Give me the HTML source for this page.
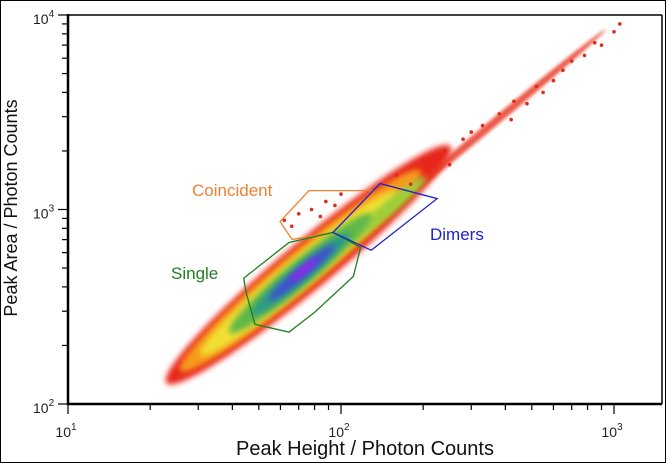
<!DOCTYPE html>
<html><head><meta charset="utf-8">
<style>
html,body{margin:0;padding:0;background:#fff;}
svg{display:block;font-family:"Liberation Sans",sans-serif;}
</style></head>
<body>
<svg id="chart" width="666" height="463" viewBox="0 0 666 463" xmlns="http://www.w3.org/2000/svg">
<defs>
<filter id="blur" x="-50%" y="-50%" width="200%" height="200%"><feGaussianBlur stdDeviation="3"/></filter>
<filter id="blur2" x="-50%" y="-50%" width="200%" height="200%"><feGaussianBlur stdDeviation="1.5"/></filter>
</defs>
<rect x="0.5" y="0.5" width="665" height="462" fill="none" stroke="#000" stroke-width="1"/>
<g id="density"></g>
<g id="gates"></g>
<g id="axes"></g>
<text x="192" y="196" font-size="17" fill="#f08030">Coincident</text>
<text x="430" y="240" font-size="17" fill="#2020d0">Dimers</text>
<text x="171" y="279" font-size="17" fill="#208020">Single</text>
<text x="365" y="455" font-size="20" text-anchor="middle" fill="#111">Peak Height / Photon Counts</text>
<text x="0" y="0" font-size="18" text-anchor="middle" fill="#111" transform="translate(17,208) rotate(-90)">Peak Area / Photon Counts</text>
</svg>
<script>
// axis ranges (log10 decades)
const xDecades = [1, 2, 3];
const yDecades = [2, 3, 4];
// density blobs: centre H, centre A, half-length (decades of H), half-width (px), colour
const blobH = [76, 330, 71, 70, 145, 71, 71, 72, 73];
const blobA = [520, 2500, 485, 470, 980, 470, 465, 475, 490];
const blobLen = [0.52, 0.45, 0.44, 0.36, 0.15, 0.26, 0.18, 0.12, 0.05];
const blobWid = [24, 4, 19, 15, 7, 13, 9, 6, 3];
const blobColor = ["#e8261a", "#e8301c", "#f79a1f", "#f0e030", "#9ccf3a", "#62b84a", "#2a9a8a", "#4050d0", "#a020f0"];
// sparse scatter specks (H, A)
const speckH = [62, 70, 78, 84, 95, 100, 66, 88, 160, 200, 240, 280, 330, 380, 430, 480, 520, 600, 650, 700, 780, 850, 900, 1000, 1050, 550, 420, 300, 250, 180];
const speckA = [880, 950, 1000, 920, 1050, 1200, 820, 1100, 1500, 1800, 2000, 2300, 2700, 3100, 3600, 3500, 4300, 4600, 5200, 5800, 6200, 7200, 7000, 8200, 9000, 4000, 2900, 2500, 1700, 1350];
// gates (H, A vertices)
const singleH = [44, 64.5, 93.5, 118, 111, 80, 64.5, 48.4, 44.9];
const singleA = [443, 677, 762, 638, 453, 296, 234, 257, 375];
const coinH = [59.8, 76.3, 132, 93.5, 66.2];
const coinA = [867, 1250, 1250, 762, 702];
const dimH = [139, 225, 129, 93.5];
const dimA = [1359, 1138, 617, 762];

const X0 = 68, XD = 273, Y0 = 404, YD = 194.5;
function xs(h){ return X0 + (Math.log10(h) - 1) * XD; }
function ys(a){ return Y0 - (Math.log10(a) - 2) * YD; }
const NS = "http://www.w3.org/2000/svg";
function mk(tag, parent){ const e = document.createElementNS(NS, tag); parent.appendChild(e); return e; }

const dens = document.getElementById('density');
const ang = -Math.atan2(1.17 * YD, XD) * 180 / Math.PI;
const stretch = Math.sqrt(1 + Math.pow(1.17 * YD / XD, 2));
for (let i = 0; i < blobH.length; i++) {
  const e = mk('ellipse', dens);
  
  
  const cx = xs(blobH[i]), cy = ys(blobA[i]);
  e.setAttribute('cx', cx); e.setAttribute('cy', cy);
  e.setAttribute('rx', blobLen[i] * XD * stretch);
  e.setAttribute('ry', blobWid[i]);
  e.setAttribute('fill', blobColor[i]);
  if (i === 1) e.setAttribute('opacity', '0.8');
  e.setAttribute('filter', i === 1 ? 'url(#blur2)' : 'url(#blur)');
  e.setAttribute('transform', 'rotate(' + ang + ' ' + cx + ' ' + cy + ')');
}
for (let i = 0; i < speckH.length; i++) {
  const c = mk('circle', dens);
  
  
  c.setAttribute('cx', xs(speckH[i])); c.setAttribute('cy', ys(speckA[i]));
  c.setAttribute('r', 1.8); c.setAttribute('fill', '#e02a1a');
}

const gates = document.getElementById('gates');
function gate(H, A, col, name){
  const p = mk('polygon', gates);
  
  
  p.setAttribute('points', H.map((h, i) => xs(h) + ',' + ys(A[i])).join(' '));
  p.setAttribute('fill', 'none'); p.setAttribute('stroke', col); p.setAttribute('stroke-width', '1.3');
}
gate(coinH, coinA, '#f08030', 'coincident-gate');
gate(singleH, singleA, '#208020', 'single-gate');
gate(dimH, dimA, '#2020d0', 'dimers-gate');

const ax = document.getElementById('axes');
function line(x1, y1, x2, y2, w, name){
  const l = mk('line', ax);
  
  
  l.setAttribute('x1', x1); l.setAttribute('y1', y1); l.setAttribute('x2', x2); l.setAttribute('y2', y2);
  l.setAttribute('stroke', '#000'); l.setAttribute('stroke-width', w);
}
line(X0, 15, 662, 15, 1.5, 'plot-top-border');
line(662, 15, 662, Y0, 1.5, 'plot-right-border');
line(X0, 14, X0, Y0 + 1, 2.5, 'y-axis-line');
line(X0 - 1, Y0, 662, Y0, 2.5, 'x-axis-line');
for (let d = 1; d <= 3; d++) {
  for (let m = 1; m <= 9; m++) {
    const x = xs(m * Math.pow(10, d));
    if (x > 662) continue;
    line(x, Y0, x, Y0 + (m === 1 ? 10 : 6), 1.2, 'x-tick');
  }
}
for (let d = 2; d <= 4; d++) {
  for (let m = 1; m <= 9; m++) {
    if (d === 4 && m > 1) continue;
    const y = ys(m * Math.pow(10, d));
    line(X0, y, X0 - (m === 1 ? 10 : 6), y, 1.2, 'y-tick');
  }
}
xDecades.forEach(d => {
  const t = mk('text', ax);
  
  
  t.setAttribute('x', xs(Math.pow(10, d)) - 2); t.setAttribute('y', 437);
  t.setAttribute('font-size', '14'); t.setAttribute('text-anchor', 'middle'); t.setAttribute('fill', '#222');
  t.innerHTML = '10<tspan dy="-7" font-size="10">' + d + '</tspan>';
});
yDecades.forEach(d => {
  const t = mk('text', ax);
  
  
  t.setAttribute('x', 33); t.setAttribute('y', ys(Math.pow(10, d)) + 9);
  t.setAttribute('font-size', '14'); t.setAttribute('fill', '#222');
  t.innerHTML = '10<tspan dy="-7" font-size="10">' + d + '</tspan>';
});
</script>
</body></html>
